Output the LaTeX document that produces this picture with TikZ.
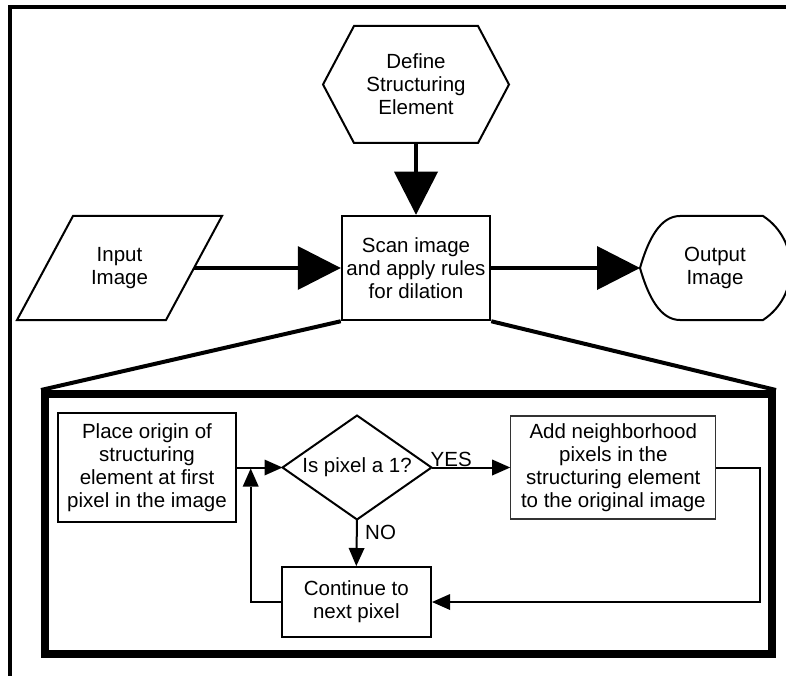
\documentclass[tikz,border=0pt]{standalone}
\usepackage{fontspec}
\setmainfont{Liberation Sans}
\usetikzlibrary{arrows.meta}
\begin{document}
\begin{tikzpicture}[x=1pt,y=-1pt,
  txt/.style={font=\fontsize{20.5pt}{23pt}\selectfont, align=center, inner sep=0pt},
  holder/.style={txt, outer sep=0pt},
  outline/.style={line width=2pt, line join=miter},
  box/.style={txt, draw, line width=2pt, rectangle},
  bigarrow/.style={line width=4.5pt, -{Triangle[length=43pt,width=44pt,line width=0pt]}},
  smallarrow/.style={line width=2pt, -{Triangle[length=18pt,width=16pt,line width=0pt]}},
  zoomline/.style={line width=4pt}
]
\useasboundingbox (0,0) rectangle (786,676);

% page frame (only top and left edges fall inside the page)
\draw[line width=4pt, line join=miter] (10,700) -- (10,7) -- (800,7);

% ---------- overview ----------
\node[holder, minimum width=124pt, minimum height=117pt] (hex) at (416,84.5) {Define\\Structuring\\Element};
\draw[outline] (hex.north west) -- (hex.north east) -- ([xshift=31pt]hex.east)
  -- (hex.south east) -- (hex.south west) -- ([xshift=-31pt]hex.west) -- cycle;

\node[box, minimum width=148.5pt, minimum height=104.5pt] (scan) at (416,268) {Scan image\\and apply rules\\for dilation};

\node[holder, minimum width=149pt, minimum height=104pt] (inp) at (119.5,268) {Input\\Image};
\draw[outline] ([xshift=28pt]inp.north west) -- ([xshift=28pt]inp.north east)
  -- ([xshift=-28pt]inp.south east) -- ([xshift=-28pt]inp.south west) -- cycle;

\node[holder, minimum width=150pt, minimum height=104pt] (out) at (715,268) {Output\\Image};
\draw[outline, shift={(out.west)}] (0,0) .. controls (8,-28) and (20,-52) .. (40,-52)
  -- (123,-52) .. controls (160,-28) and (160,28) .. (123,52)
  -- (40,52) .. controls (20,52) and (8,28) .. (0,0) -- cycle;

\draw[bigarrow] (hex.south) -- (scan.north);
\draw[bigarrow] (inp.east) -- (scan.west);
\draw[bigarrow] (scan.east) -- (out.west);

% ---------- detail of the scan step ----------
\node[draw, line width=8pt, inner sep=0pt, minimum width=727pt, minimum height=260pt] (detail) at (408.5,524) {};
\draw[zoomline] (scan.south west) -- (detail.north west);
\draw[zoomline] (scan.south east) -- (detail.north east);

\node[box, minimum width=177.5pt, minimum height=108.5pt] (place) at (147,467.5) {Place origin of\\structuring\\element at first\\pixel in the image};

\node[holder, minimum width=149pt, minimum height=104pt] (dec) at (357,467.5) {Is pixel a 1?};
\draw[outline] (dec.west) -- (dec.north) -- (dec.east) -- (dec.south) -- cycle;

\node[box, draw=black!80, line width=1.2pt, minimum width=205pt, minimum height=103pt] (add) at (613.3,467.5) {Add neighborhood\\pixels in the\\structuring element\\to the original image};

\node[box, minimum width=149.5pt, minimum height=70pt] (cont) at (356.3,602) {Continue to\\next pixel};

\draw[smallarrow] (place.east) -- (dec.west);
\draw[smallarrow] (dec.east) -- (add.west);
\draw[smallarrow] (dec.south) -- (cont.north);
\coordinate (join) at (250.7,468.5);
\draw[smallarrow] (cont.west) -| (join);
\draw[smallarrow] (add.east) -- ++(44,0) |- (cont.east);

\node[txt, anchor=base west] (yes) at ([xshift=-1pt,yshift=1.5pt]dec.east) {YES};
\node[txt, anchor=west] (no) at ([xshift=8pt,yshift=-13pt]dec.south) {NO};
\end{tikzpicture}
\end{document}
